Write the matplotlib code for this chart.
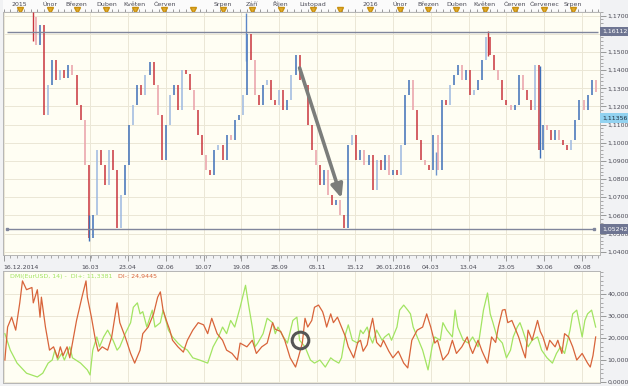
import numpy as np
import matplotlib.pyplot as plt
from matplotlib.ticker import MultipleLocator, FuncFormatter
from matplotlib.transforms import blended_transform_factory

# trading-day index 0 = 16.12.2014
date_ticks = [0, 64, 92, 120, 148, 176, 204, 232, 260, 288, 316, 344, 372, 400, 428]
date_labels = ["16.12.2014", "16.03", "23.04", "02.06", "10.07", "19.08", "28.09",
               "05.11", "15.12", "26.01.2016", "04.03", "13.04", "23.05", "30.06", "09.08"]

month_ticks = [12, 34, 54, 76, 97, 119, 140, 162, 184, 205, 229, 249,
               271, 293, 314, 335, 356, 378, 400, 421]
month_labels = ["2015", "Únor", "Březen", "Duben", "Květen", "Červen", "", "Srpen",
                "Září", "Říjen", "Listopad", "", "2016", "Únor", "Březen", "Duben",
                "Květen", "Červen", "Červenec", "Srpen"]

# EUR/USD close, every 3rd trading day starting at index 21
bar_start = 21
bar_step = 3
closes = [
    1.1690, 1.1539, 1.1649, 1.1153, 1.1318, 1.1456, 1.1346, 1.1401, 1.1357, 1.1428,
    1.1373, 1.1208, 1.1125, 1.0877, 1.0475, 1.0602, 1.0960, 1.0877, 1.0767, 1.0960,
    1.0850, 1.0530, 1.0712, 1.0877, 1.1098, 1.1208, 1.1318, 1.1263, 1.1373, 1.1445,
    1.1318, 1.1153, 1.0905, 1.1098, 1.1263, 1.1318, 1.1180, 1.1401, 1.1380, 1.1291,
    1.1180, 1.1043, 1.0933, 1.0850, 1.0822, 1.0960, 1.0988, 1.0905, 1.1043, 1.1015,
    1.1125, 1.1153, 1.1263, 1.1600, 1.1456, 1.1263, 1.1208, 1.1318, 1.1346, 1.1236,
    1.1208, 1.1291, 1.1180, 1.1236, 1.1373, 1.1483, 1.1346, 1.1318, 1.1098, 1.0960,
    1.0877, 1.0767, 1.0850, 1.0712, 1.0657, 1.0685, 1.0602, 1.0530, 1.0988, 1.1043,
    1.0905, 1.0960, 1.0877, 1.0933, 1.0740, 1.0905, 1.0850, 1.0933, 1.0822, 1.0850,
    1.0822, 1.0988, 1.1263, 1.1346, 1.1180, 1.1015, 1.0905, 1.0877, 1.0850, 1.1043,
    1.0850, 1.1236, 1.1208, 1.1318, 1.1373, 1.1428, 1.1346, 1.1401, 1.1263, 1.1291,
    1.1346, 1.1456, 1.1580, 1.1483, 1.1401, 1.1346, 1.1236, 1.1208, 1.1180, 1.1208,
    1.1373, 1.1291, 1.1236, 1.1180, 1.1428, 1.0960, 1.1098, 1.1070, 1.1015, 1.1070,
    1.1015, 1.0988, 1.0960, 1.1015, 1.1125, 1.1236, 1.1180, 1.1263, 1.1346, 1.1280,
]

# single-day spikes
wick_bar = [22, 63, 179, 320, 358, 397]
wick_low = [1.1560, 1.0458, 1.1450, 1.0820, 1.1480, 1.0915]
wick_high = [1.1720, 1.0600, 1.1715, 1.0950, 1.1615, 1.1420]

level_high = 1.16112
level_low = 1.05242
last_mark = 1.11356

arrow_from = (219, 1.1412)
arrow_to = (250, 1.0695)

# DMI(14)
di_minus_bar = [1, 3, 6, 9, 12, 14, 17, 21, 22, 25, 27, 28, 31, 34, 37, 40, 42, 44, 47, 49,
                51, 54, 58, 61, 62, 65, 68, 70, 73, 77, 80, 84, 86, 90, 94, 97, 101, 103, 107, 111,
                114, 116, 118, 121, 123, 125, 129, 133, 136, 140, 144, 148, 151, 154, 158, 162, 165, 169, 173, 175,
                180, 184, 187, 191, 195, 199, 201, 205, 208, 212, 216, 218, 221, 223, 225, 228, 230, 233, 236, 237,
                239, 242, 244, 247, 250, 253, 255, 259, 262, 264, 266, 269, 271, 273, 276, 279, 281, 285, 288, 292,
                296, 299, 302, 306, 310, 313, 316, 319, 321, 325, 329, 332, 335, 339, 343, 345, 347, 351, 354, 358,
                361, 364, 366, 369, 371, 373, 376, 378, 381, 384, 386, 388, 391, 395, 397, 399, 402, 404, 408, 410,
                413, 415, 418, 421, 424, 428, 432, 434, 436, 438]
di_minus = [10, 25, 29.5, 23.6, 36, 46, 42, 43, 36, 42, 29.5, 38.6, 25, 14.5, 16, 11, 16, 12, 16, 11,
            17.7, 28, 38.6, 46, 38.6, 29.5, 19, 14, 16, 14.5, 20.5, 36, 27, 20.5, 13, 8.6, 14.5, 22, 25, 31,
            38.6, 41, 32.7, 27, 23.6, 19, 16, 13.6, 19, 23.6, 27, 26, 22, 29, 22, 19, 14.5, 13, 10, 17.7,
            16, 19, 13, 16, 17.7, 27, 24, 23, 19, 11, 6.8, 11, 17.7, 29, 25, 28, 34, 35, 32, 30,
            25, 31, 27, 29.5, 25, 20.5, 16, 11, 18, 19, 14, 17, 23.6, 29, 18, 16, 19, 14, 11, 14,
            8.6, 6.4, 19, 23.6, 25, 31, 25, 17.7, 19, 10, 13, 19, 13, 16, 20.5, 16, 13, 19, 14, 8.6,
            20.5, 18, 25, 32.7, 33, 27, 28, 25, 20.5, 14.5, 11, 23.6, 19, 28, 23, 20.5, 14.5, 19, 16, 19,
            13, 22, 20.5, 16, 10, 13, 8.6, 6.8, 12, 20.5]

di_plus_bar = [1, 5, 10, 17, 25, 29, 33, 36, 38, 40, 43, 45, 49, 51, 57, 62, 64, 66, 69, 71,
               74, 77, 81, 84, 86, 90, 94, 96, 99, 101, 103, 106, 110, 112, 116, 118, 122, 125, 129, 132,
               136, 140, 145, 151, 155, 159, 162, 165, 168, 171, 175, 179, 181, 184, 186, 188, 192, 195, 199, 201,
               203, 207, 210, 214, 217, 219, 223, 227, 230, 234, 238, 242, 244, 248, 250, 253, 255, 258, 262, 264,
               266, 269, 271, 273, 276, 280, 282, 285, 287, 291, 293, 296, 299, 301, 303, 307, 310, 314, 317, 319,
               323, 325, 328, 332, 334, 336, 340, 344, 347, 351, 355, 358, 360, 362, 365, 369, 372, 375, 377, 380,
               382, 384, 388, 391, 395, 398, 402, 406, 409, 412, 415, 419, 421, 424, 428, 430, 432, 435, 438]
di_plus = [22, 14.5, 8.6, 4, 2.3, 4, 8.6, 10, 14.5, 10, 13, 10, 16, 11, 8.6, 5.5, 3.2, 14.5, 20.5, 16,
           20.5, 23.6, 19, 14.5, 16, 22, 27, 34, 36, 31, 32, 25, 32.7, 25, 27, 32.7, 23.6, 20.5, 17.7, 16,
           14.5, 11, 10, 8.6, 16, 20.5, 25, 22, 28, 25, 34, 44, 36, 25, 16, 17.7, 22, 29, 27, 22,
           25, 20.5, 17.7, 28, 29.5, 19, 16, 10, 8.6, 10, 6.8, 11, 10, 8.6, 11, 22, 26, 19, 17.7, 23.6,
           22, 25, 20.5, 17.7, 23.6, 19, 20.5, 22, 19, 25, 32.7, 35, 32.7, 31, 25, 19, 14.5, 5.5, 16, 20.5,
           19, 27, 23.6, 20.5, 32.7, 25, 19, 17.7, 20.5, 16, 32.7, 40.5, 31, 27, 20.5, 17.7, 11, 14.5, 20.5, 25,
           27, 23.6, 16, 19, 20.5, 14.5, 11, 8.6, 13, 16, 13, 23.6, 31, 32.7, 20.5, 28, 31, 32.7, 25]

circle_at = (219, 19)

BG = "#fffef3"
GRID = "#ebe7d6"
TXT = "#4a4a55"
FS = 4.5


def comma_fmt(v, pos):
    return f"{v:.4f}".replace(".", ",")


fig = plt.figure(figsize=(6.28, 3.86), dpi=100, facecolor="#f1f2f4")
xlim = (-0.4, 441.2)

# ---- month strip on top
ax_m = fig.add_axes([3 / 628, 1 - 12 / 386, 597 / 628, 12 / 386])
ax_m.set_xlim(*xlim)
ax_m.set_ylim(0, 1)
ax_m.set_facecolor("#fbfbfb")
for s in ax_m.spines.values():
    s.set_visible(False)
ax_m.set_yticks([])
ax_m.set_xticks([])
ax_m.xaxis.set_minor_locator(MultipleLocator(5))
ax_m.tick_params(axis="x", which="minor", length=2, color="#8a8a8a", direction="in",
                 bottom=True, top=False)
ax_m.axhline(0.02, color="#8a8a8a", lw=0.8)
ax_m.plot(month_ticks, [0.15] * len(month_ticks), "v", color="#e0aa2a", ms=4, mec="#c89010")
for mx, ml in zip(month_ticks, month_labels):
    ax_m.text(mx, 0.52, ml, ha="center", va="baseline", fontsize=FS, color=TXT)

# ---- price panel
ax = fig.add_axes([3 / 628, 1 - 255 / 386, 597 / 628, 243 / 386])
ax.set_facecolor(BG)
ax.set_xlim(*xlim)
ax.set_ylim(1.0382, 1.1720)

bars = bar_start + bar_step * np.arange(len(closes))
c = np.array(closes)
prev = np.concatenate([[c[0]], c[:-1]])
up = c >= prev
shade = np.arange(len(c)) % 3 == 1
cols = []
for u, s in zip(up, shade):
    if u:
        cols.append("#9db8e0" if s else "#3f6fb8")
    else:
        cols.append("#eaa0a8" if s else "#c9343d")
ax.vlines(bars, np.minimum(prev, c), np.maximum(prev, c), colors=cols, lw=1.1, zorder=3)
ax.vlines(wick_bar, wick_low, wick_high,
          colors=["#c9343d", "#3f6fb8", "#5b86c8", "#6f95cc", "#c9343d", "#3f6fb8"],
          lw=1.0, zorder=3)

ax.hlines(level_high, 2.5, 440, color="#80869c", lw=1.0, zorder=4)
ax.hlines(level_low, 2.5, 437, color="#80869c", lw=1.0, zorder=4)
ax.plot([2.5, 437], [level_low, level_low], "s", color="#80869c", ms=2, zorder=4)

ax.annotate("", xy=arrow_to, xytext=arrow_from, zorder=5,
            arrowprops=dict(arrowstyle="-|>,head_length=0.8,head_width=0.35",
                            color="#7b7d7b", lw=2.6, shrinkA=0, shrinkB=0))

ax.yaxis.tick_right()
ax.set_yticks(np.arange(1.04, 1.1701, 0.01))
ax.yaxis.set_minor_locator(MultipleLocator(0.002))
ax.yaxis.set_major_formatter(FuncFormatter(comma_fmt))
ax.set_xticks(date_ticks)
ax.set_xticklabels(date_labels)
ax.xaxis.set_minor_locator(MultipleLocator(5))
ax.tick_params(axis="both", which="major", labelsize=FS, labelcolor=TXT, color="#8a8a8a",
               length=4, width=0.6, pad=1.5)
ax.tick_params(axis="both", which="minor", color="#8a8a8a", length=2, width=0.5)
ax.tick_params(axis="x", pad=3)
ax.get_xticklabels()[0].set_ha("left")
ax.grid(True, which="major", color=GRID, lw=0.7, zorder=0)
for s in ax.spines.values():
    s.set_color("#b5b5b5")
    s.set_linewidth(0.7)

tr = blended_transform_factory(ax.transAxes, ax.transData)
for val, fc, tc in [(level_high, "#6e7592", "white"), (last_mark, "#92d2f0", "#203040"),
                    (level_low, "#6e7592", "white")]:
    ax.text(1.004, val, f"{val:.5f}".replace(".", ","), transform=tr, ha="left", va="center",
            fontsize=FS, color=tc, zorder=6, clip_on=False,
            bbox=dict(boxstyle="square,pad=0.35", fc=fc, ec="none"))

# ---- DMI panel
ax2 = fig.add_axes([3 / 628, 1 - 383 / 386, 597 / 628, 112 / 386])
ax2.set_facecolor(BG)
ax2.set_xlim(*xlim)
ax2.set_ylim(-0.45, 50.5)
ax2.plot(di_plus_bar, di_plus, color="#a2e462", lw=0.9, zorder=3)
ax2.plot(di_minus_bar, di_minus, color="#d8643a", lw=0.9, zorder=3)
ax2.plot([circle_at[0]], [circle_at[1]], "o", ms=12, mfc="none", mec="#555555", mew=2.2, zorder=5)

ax2.yaxis.tick_right()
ax2.set_yticks([0, 10, 20, 30, 40])
ax2.yaxis.set_minor_locator(MultipleLocator(2))
ax2.yaxis.set_major_formatter(FuncFormatter(comma_fmt))
ax2.set_xticks(date_ticks)
ax2.tick_params(axis="x", which="both", length=0, labelbottom=False)
ax2.tick_params(axis="y", which="major", labelsize=FS, labelcolor=TXT, color="#8a8a8a",
                length=4, width=0.6, pad=1.5)
ax2.tick_params(axis="y", which="minor", color="#8a8a8a", length=2, width=0.5)
ax2.grid(True, which="major", color=GRID, lw=0.7, zorder=0)
for s in ax2.spines.values():
    s.set_color("#b5b5b5")
    s.set_linewidth(0.7)

ax2.text(0.012, 0.975, "DMI(EurUSD, 14) -  DI+: 11,3381", transform=ax2.transAxes,
         ha="left", va="top", fontsize=FS, color="#a2e462")
ax2.text(0.193, 0.975, "DI-: 24,9445", transform=ax2.transAxes,
         ha="left", va="top", fontsize=FS, color="#d8643a")

fig.savefig("out.png", dpi=100, facecolor=fig.get_facecolor())
